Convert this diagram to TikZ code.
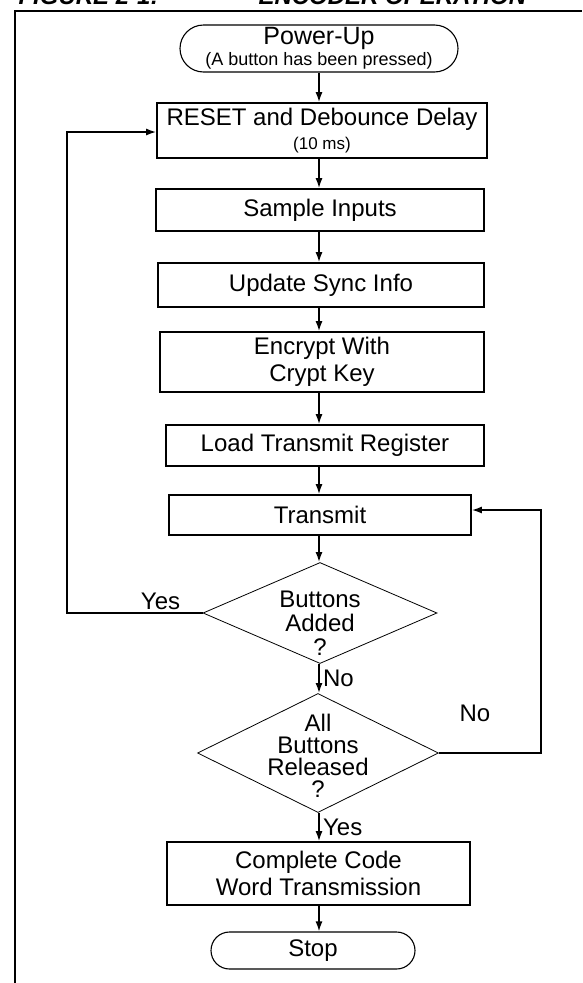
\documentclass[tikz,border=0pt]{standalone}
\usepackage{fontspec}
\setmainfont{Liberation Sans}
\usetikzlibrary{shapes.misc,shapes.geometric,arrows.meta}
\begin{document}
\begin{tikzpicture}[x=1pt, y=-1pt, >={Latex[length=10pt,width=7pt]}, font=\fontsize{24}{27}\selectfont,
 box/.style={draw, line width=1.6pt, inner sep=0, align=center},
 term/.style={draw, rounded rectangle, line width=1.1pt, inner sep=0, align=center},
 decis/.style={draw, diamond, line width=0.8pt, inner sep=0},
 flow/.style={->, line width=1.6pt},
 head/.style={anchor=base west, font=\fontsize{24}{27}\selectfont\bfseries\itshape}]
 \useasboundingbox (0,0) rectangle (582,983);
 \draw[line width=2.4pt] (15,983) -- (15,11) -- (582,11);
 \node[head] (fig) at (15,4.5) {FIGURE 2-1:};
 \node[head] (ttl) at (255,4.5) {ENCODER OPERATION};
 \node[term, minimum width=278, minimum height=47, font=\fontsize{25}{25}\selectfont] (pwr) at (319,48.5) {Power-Up\\[-4pt]{\fontsize{18}{18}\selectfont(A button has been pressed)}};
 \node[box, minimum width=330, minimum height=55] (reset) at (322,130.5) {RESET and Debounce Delay\\[-3pt]{\fontsize{17}{18}\selectfont(10 ms)}};
 \node[box, minimum width=328, minimum height=42] (sample) at (320,210) {Sample Inputs};
 \node[box, minimum width=326, minimum height=44] (update) at (321,285) {Update Sync Info};
 \node[box, minimum width=324, minimum height=60] (encrypt) at (322,362) {Encrypt With\\Crypt Key};
 \node[box, minimum width=318, minimum height=41] (load) at (325,445.5) {Load Transmit Register};
 \node[box, minimum width=302, minimum height=40] (transmit) at (320,515) {Transmit};
 \node[decis, minimum width=234, minimum height=101, label={[align=center, yshift=-10pt, font=\fontsize{24}{24}\selectfont]center:Buttons\\Added\\?}] (q1) at (320,613) {};
 \node[decis, minimum width=241, minimum height=119, label={[align=center, yshift=-3pt, font=\fontsize{24}{22}\selectfont]center:All\\Buttons\\Released\\?}] (q2) at (318,753) {};
 \node[box, minimum width=303, minimum height=63] (complete) at (318.5,873.5) {Complete Code\\Word Transmission};
 \node[term, minimum width=204, minimum height=37] (stop) at (313,950.5) {Stop};
 \coordinate (spine) at (319,0);
 \coordinate (lft) at (67,0);
 \coordinate (rgt) at (541,0);
 \foreach \a/\b in {pwr/reset,reset/sample,sample/update,update/encrypt,encrypt/load,load/transmit,transmit/q1}
  \draw[flow] (\a.south -| spine) -- (\b.north -| spine);
 \draw[flow] (q1.south -| spine) -- node[right]{No} (q2.north -| spine);
 \draw[flow] (q2.south -| spine) -- node[right]{Yes} (complete.north -| spine);
 \draw[flow] (complete.south -| spine) -- (stop.north -| spine);
 \draw[flow] (q1.west) -- node[pos=.31, above, inner sep=2pt]{Yes} (q1.west -| lft) |- ([yshift=-1.5pt]reset.west);
 \draw[flow] (q2.east) -- (q2.east -| rgt) |- ([yshift=5pt]transmit.east);
 \node (no2) at (475,713) {No};
\end{tikzpicture}
\end{document}
